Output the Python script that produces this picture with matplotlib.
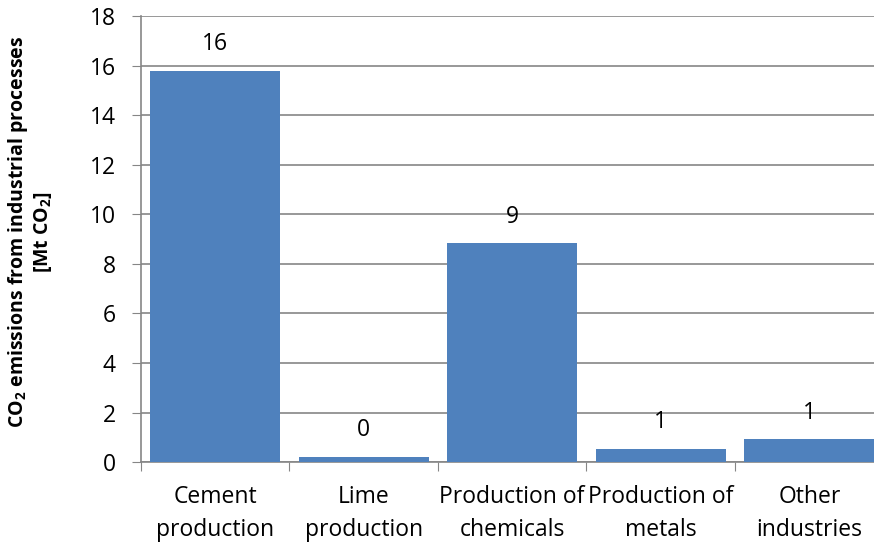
import matplotlib.pyplot as plt
import numpy as np

# data
categories = ['Cement\nproduction', 'Lime\nproduction', 'Production of\nchemicals',
              'Production of\nmetals', 'Other\nindustries']
values = [15.8, 0.22, 8.84, 0.55, 0.92]
labels = [f"{v:.0f}" for v in values]

plt.rcParams['font.family'] = ['Open Sans', 'DejaVu Sans']
plt.rcParams['mathtext.fontset'] = 'custom'
plt.rcParams['mathtext.rm'] = 'Open Sans'
plt.rcParams['mathtext.bf'] = 'Open Sans:bold'

fs = 16.5

fig = plt.figure(figsize=(8.74, 5.45), dpi=100)
ax = fig.add_axes([0.161, 0.152, 1.011 - 0.161, 0.9706 - 0.152])

x = np.arange(len(categories))
bars = ax.bar(x, values, width=0.876, color='#4F81BD', zorder=3)

for xi, v, lab in zip(x, values, labels):
    ax.annotate(lab, (xi, v), xytext=(0, 19), textcoords='offset points',
                ha='center', va='center', fontsize=fs, color='black')

ax.set_xlim(-0.5, 4.5)
ax.set_ylim(0, 18)
ax.set_yticks(np.arange(0, 19, 2))
ax.set_xticks(np.arange(-0.5, 5, 1), minor=False)
ax.set_xticklabels([])
ax.set_xticks(x, minor=True)
ax.set_xticklabels(categories, minor=True, fontsize=fs, linespacing=1.5)
ax.tick_params(axis='x', which='minor', length=0, pad=16.5)
ax.tick_params(axis='x', which='major', length=6.5, color='#868686', direction='out')
ax.tick_params(axis='y', length=6.5, color='#868686', direction='out', labelsize=fs, pad=11.5)

ax.yaxis.grid(True, color='#868686', linewidth=1.2, zorder=0)
for s in ['top', 'right']:
    ax.spines[s].set_visible(False)
ax.spines['left'].set_color('#868686')
ax.spines['bottom'].set_color('#868686')
ax.spines['left'].set_linewidth(1.2)
ax.spines['bottom'].set_linewidth(1.2)

fig.text(0.034, 0.575,
         'CO$\\mathbf{_2}$ emissions from industrial processes\n[Mt CO$\\mathbf{_2}$]',
         rotation=90, ha='center', va='center', multialignment='center',
         fontsize=14, fontweight='bold', linespacing=1.15)

fig.savefig('out.png', dpi=100)
